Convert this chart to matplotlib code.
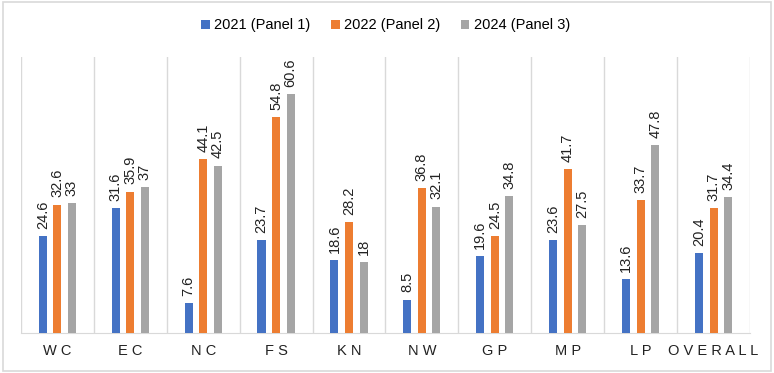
import numpy as np
import matplotlib.pyplot as plt

plt.rcParams['font.family'] = ['Liberation Sans', 'DejaVu Sans']

regions = ['WC', 'EC', 'NC', 'FS', 'KN', 'NW', 'GP', 'MP', 'LP', 'OVERALL']
panel_2021 = [24.6, 31.6, 7.6, 23.7, 18.6, 8.5, 19.6, 23.6, 13.6, 20.4]
panel_2022 = [32.6, 35.9, 44.1, 54.8, 28.2, 36.8, 24.5, 41.7, 33.7, 31.7]
panel_2024 = [33, 37, 42.5, 60.6, 18, 32.1, 34.8, 27.5, 47.8, 34.4]
series_names = ['2021 (Panel 1)', '2022 (Panel 2)', '2024 (Panel 3)']
colors = ['#4472C4', '#ED7D31', '#A5A5A5']

fig = plt.figure(figsize=(7.74, 3.73), dpi=100)
ax = fig.add_axes([0.027, 0.107, 0.942, 0.74])

x = np.arange(len(regions))
width = 0.11
offsets = [-0.2, 0, 0.2]
for vals, off, c, name in zip([panel_2021, panel_2022, panel_2024], offsets, colors, series_names):
    bars = ax.bar(x + off, vals, width, color=c, label=name, zorder=3)
    for b, v in zip(bars, vals):
        ax.text(b.get_x() + b.get_width() / 2, v + 1.8, f'{v:g}', rotation=90,
                ha='center', va='bottom', fontsize=10.5, color='#222222')

# category separators
for xs in np.arange(len(regions) + 1) - 0.5:
    ax.axvline(xs, color='#D9D9D9', lw=1, zorder=1)

ax.set_xlim(-0.5, len(regions) - 0.5)
ax.set_ylim(0, 70)
ax.set_yticks([])
ax.set_xticks(x)
ax.set_xticklabels([' '.join(r) for r in regions], fontsize=10.5, color='#222222')
ax.tick_params(axis='x', length=0, pad=8)
for s in ['top', 'left', 'right']:
    ax.spines[s].set_visible(False)
ax.spines['bottom'].set_color('#D9D9D9')

ax.legend(loc='center', bbox_to_anchor=(0.5, 1.115), ncol=3, frameon=False,
          fontsize=10.5, handlelength=0.6, handleheight=0.6, columnspacing=1.4,
          handletextpad=0.3)

fig.patches.append(plt.Rectangle((0.004, 0.006), 0.992, 0.988, transform=fig.transFigure,
                                 fill=False, edgecolor='#D9D9D9', lw=1.2))

fig.savefig('out.png', dpi=100)
